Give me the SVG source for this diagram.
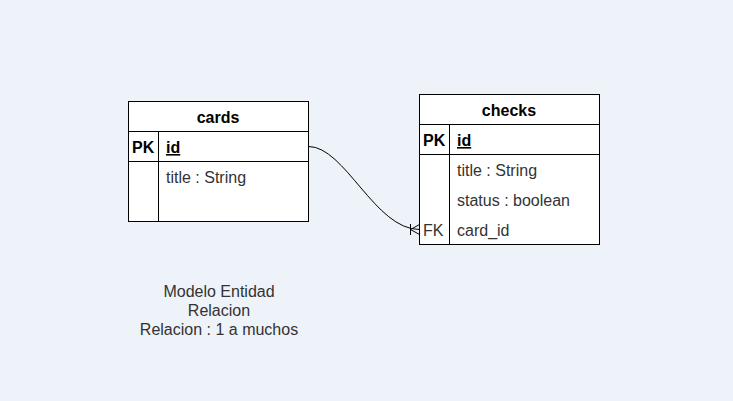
<svg xmlns="http://www.w3.org/2000/svg" width="733" height="401" viewBox="0 0 733 401">
<style>
.box{fill:#ffffff;stroke:#000000;stroke-width:1}
.ln{stroke:#000000;stroke-width:1;fill:none}
.t{font-family:"Liberation Sans",Arial,sans-serif;font-size:16px;fill:#333333}
.b{font-weight:bold;fill:#000000}
.hd{font-family:"Liberation Sans",Arial,sans-serif;font-size:16px;font-weight:bold;fill:#000000;text-anchor:middle}
.c{font-family:"Liberation Sans",Arial,sans-serif;font-size:16px;fill:#333333;text-anchor:middle}
</style>
<rect x="0" y="0" width="733" height="401" fill="#eef2f9"/>
<g id="connectors">
<path class="ln" d="M308.5,146.5 C345,146.5 375,229.5 419.5,229.5" stroke="#333333"/>
<path class="ln" d="M410.5,224 L410.5,235 M410.5,229.5 L419.5,224.5 M410.5,229.5 L419.5,234.5"/>
</g>
<g id="cards">
<rect class="box" x="128.5" y="101.5" width="180" height="120"/>
<line class="ln" x1="128.5" y1="131.5" x2="308.5" y2="131.5"/>
<line class="ln" x1="128.5" y1="161.5" x2="308.5" y2="161.5"/>
<line class="ln" x1="158.5" y1="131.5" x2="158.5" y2="221.5"/>
<text class="hd" x="218" y="123">cards</text>
<text class="t b" x="132" y="153">PK</text>
<text class="t b" x="166" y="153" text-decoration="underline">id</text>
<text class="t" x="166" y="183">title : String</text>
</g>
<g id="checks">
<rect class="box" x="419.5" y="94.5" width="180" height="150"/>
<line class="ln" x1="419.5" y1="124.5" x2="599.5" y2="124.5"/>
<line class="ln" x1="419.5" y1="154.5" x2="599.5" y2="154.5"/>
<line class="ln" x1="449.5" y1="124.5" x2="449.5" y2="244.5"/>
<text class="hd" x="509" y="116">checks</text>
<text class="t b" x="423" y="146">PK</text>
<text class="t b" x="457" y="146" text-decoration="underline">id</text>
<text class="t" x="457" y="176">title : String</text>
<text class="t" x="457" y="206">status : boolean</text>
<text class="t" x="423" y="236">FK</text>
<text class="t" x="457" y="236">card_id</text>
</g>
<g id="note">
<text class="c" x="219" y="297">Modelo Entidad</text>
<text class="c" x="219" y="316">Relacion</text>
<text class="c" x="219" y="335">Relacion : 1 a muchos</text>
</g>
</svg>
